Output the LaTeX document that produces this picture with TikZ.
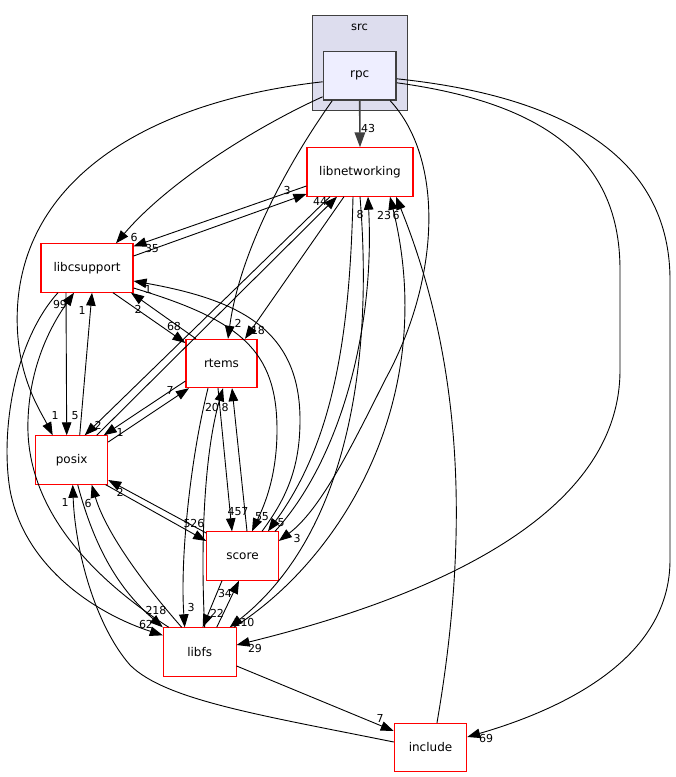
\documentclass[tikz,border=0pt]{standalone}
\usepackage{fontspec}
\setmainfont{DejaVu Sans}
\usetikzlibrary{arrows.meta}
\definecolor{clusterfill}{HTML}{DDDDEE}
\definecolor{rpcfill}{HTML}{EEEEFF}
\definecolor{edgegray}{HTML}{404040}
\begin{document}
\begin{tikzpicture}[x=1pt,y=-1pt,
  dirbox/.style={draw=red, line width=1.1pt, fill=white, minimum height=48.3pt, inner sep=0pt, font=\fontsize{12}{14}\selectfont},
  lbl/.style={font=\fontsize{11}{13}\selectfont, inner sep=0pt},
  dep/.style={-{Triangle[length=13pt,width=9.5pt]}, line width=0.9pt},
  maindep/.style={-{Triangle[length=15pt,width=10.5pt]}, line width=1.6pt, draw=edgegray, fill=edgegray},
]
\useasboundingbox (0,0) rectangle (676,777);
\fill[white] (0,0) rectangle (676,777);

% cluster and nodes
\node[draw=edgegray, fill=clusterfill, line width=1pt, minimum width=94.6pt, minimum height=95.7pt, inner sep=0pt] (src) at (360,62.9) {};
\node[lbl, font=\fontsize{11.5}{13}\selectfont] (srclabel) at (359.5,27) {src};
\node[draw=edgegray, fill=rpcfill, line width=1.6pt, minimum width=72.7pt, minimum height=48.3pt, inner sep=0pt, font=\fontsize{12}{14}\selectfont] (rpc) at (359.7,75.8) {rpc};

\node[dirbox, minimum width=106pt] (libnetworking) at (360,172) {libnetworking};
\node[dirbox, minimum width=92pt] (libcsupport) at (87,268) {libcsupport};
\node[dirbox, minimum width=71pt] (rtems) at (221.5,363.5) {rtems};
\node[dirbox, minimum width=72pt] (posix) at (71.7,460) {posix};
\node[dirbox, minimum width=71.5pt] (score) at (242.5,556) {score};
\node[dirbox, minimum width=72.7pt] (libfs) at (199.7,652) {libfs};
\node[dirbox, minimum width=72.4pt] (include) at (430.5,747.5) {include};

% rpc edges
\draw[maindep] (rpc.south) -- (libnetworking.north);
\draw[dep] ([yshift=-21pt]rpc.west) .. controls (260,125) and (170,180) .. ([xshift=29pt]libcsupport.north);
\draw[dep] ([yshift=-6pt]rpc.west) .. controls (160,100) and (30,170) .. (18,300) .. controls (12,370) and (40,410) .. ([xshift=-19pt]posix.north);
\draw[dep] ([xshift=-27.5pt]rpc.south) .. controls (290,160) and (240,250) .. ([xshift=6.5pt]rtems.north);
\draw[dep] ([xshift=30.5pt]rpc.south) .. controls (445,160) and (440,280) .. (385,380) .. controls (350,450) and (320,510) .. ([yshift=15pt]score.east);
\draw[dep] ([yshift=-7pt]rpc.east) .. controls (560,105) and (620,170) .. (620,270) -- (620,370) .. controls (620,520) and (420,600) .. ([yshift=7pt]libfs.east);
\draw[dep] ([yshift=-3pt]rpc.east) .. controls (600,100) and (670,180) .. (670,280) -- (670,560) .. controls (670,660) and (560,710) .. ([yshift=10.5pt]include.east);

% libnetworking edges
\draw[dep] ([yshift=-14pt]libnetworking.west) -- ([yshift=-3pt]libcsupport.north east);
\draw[dep] ([yshift=12pt]libcsupport.east) -- ([yshift=-22pt]libnetworking.west);
\draw[dep] ([xshift=-16pt]libnetworking.south) -- ([xshift=23.5pt]rtems.north);
\draw[dep] ([xshift=-30pt]libnetworking.south) -- ([xshift=13pt]posix.north);
\draw[dep] ([xshift=25pt]posix.north) -- ([xshift=-23pt]libnetworking.south);
\draw[dep] ([xshift=-7pt]libnetworking.south) .. controls (350,330) and (335,440) .. ([xshift=25.5pt]score.north);
\draw[dep] (libnetworking.south) .. controls (375,380) and (340,540) .. ([xshift=30pt]libfs.north);
\draw[dep] ([xshift=32.5pt]score.north) .. controls (340,460) and (375,330) .. ([xshift=8pt]libnetworking.south);
\draw[dep] ([xshift=34pt]libfs.north) .. controls (340,560) and (440,400) .. ([xshift=30pt]libnetworking.south);
\draw[dep] ([xshift=6.5pt]include.north) .. controls (465,560) and (470,380) .. ([xshift=36pt]libnetworking.south);

% libcsupport edges
\draw[dep] ([xshift=26pt]libcsupport.south) -- ([yshift=20.5pt]rtems.west);
\draw[dep] ([xshift=-25.5pt]rtems.north) -- ([xshift=44pt]libcsupport.south);
\draw[dep] ([xshift=-21pt]libcsupport.south) -- ([xshift=-5pt]posix.north);
\draw[dep] ([xshift=8pt]posix.north) -- ([xshift=5pt]libcsupport.south);
\draw[dep] ([yshift=-20pt]libcsupport.east) .. controls (240,320) and (277,350) .. (277,430) .. controls (277,480) and (262,510) .. ([xshift=9.5pt]score.north);
\draw[dep] ([xshift=19.5pt]score.north) .. controls (285,500) and (300,470) .. (300,420) .. controls (300,330) and (240,300) .. ([yshift=-13pt]libcsupport.east);
\draw[dep] ([xshift=-29pt]libcsupport.south) .. controls (15,340) and (0,430) .. (10,490) .. controls (25,570) and (100,615) .. ([yshift=-8pt]libfs.north west);
\draw[dep] ([xshift=6pt]libfs.north west) .. controls (80,570) and (25,500) .. (28,420) .. controls (30,360) and (55,320) .. ([xshift=-13pt]libcsupport.south);

% rtems edges
\draw[dep] ([yshift=-17.5pt]rtems.west) -- ([xshift=32pt]posix.north);
\draw[dep] ([yshift=18pt]posix.east) -- ([xshift=-32.5pt]rtems.south);
\draw[dep] ([xshift=-3.5pt]rtems.south) -- ([xshift=-10.5pt]score.north);
\draw[dep] ([xshift=4.5pt]score.north) -- ([xshift=10.5pt]rtems.south);
\draw[dep] ([xshift=-13.5pt]rtems.south) .. controls (190,460) and (180,560) .. ([xshift=-15pt]libfs.north);
\draw[dep] ([xshift=5pt]libfs.north) .. controls (200,540) and (205,450) .. ([xshift=1.5pt]rtems.south);

% posix edges
\draw[dep] ([xshift=34pt]posix.south) -- ([yshift=15pt]score.west);
\draw[dep] ([yshift=23pt]score.west) -- ([yshift=-20pt]posix.east);
\draw[dep] ([xshift=6pt]posix.south) .. controls (95,550) and (120,590) .. (libfs.north west);
\draw[dep] ([xshift=-18pt]libfs.north) .. controls (140,580) and (105,530) .. ([xshift=20pt]posix.south);
\draw[dep] ([yshift=5.5pt]include.west) .. controls (260,715) and (165,700) .. (130,665) .. controls (95,625) and (75,550) .. ([xshift=1pt]posix.south);

% score / libfs / include
\draw[dep] ([xshift=-20.5pt]score.south) -- ([xshift=3pt]libfs.north);
\draw[dep] ([xshift=17pt]libfs.north) -- ([xshift=-3.5pt]score.south);
\draw[dep] ([yshift=-14pt]libfs.east) -- ([yshift=16.5pt]include.west);

% edge labels
\node[lbl] (t43) at (368,128) {43};
\node[lbl] (t6a) at (134,237) {6};
\node[lbl] (t1a) at (55,415) {1};
\node[lbl] (t2a) at (238,323) {2};
\node[lbl] (t3a) at (297,538) {3};
\node[lbl] (t29) at (255,648) {29};
\node[lbl] (t69) at (486,738) {69};
\node[lbl] (t35) at (152,248) {35};
\node[lbl] (t3b) at (287,190) {3};
\node[lbl] (t18) at (258,330) {18};
\node[lbl] (t2b) at (98,425) {2};
\node[lbl] (t44) at (320,201) {44};
\node[lbl] (t5a) at (281,523) {5};
\node[lbl] (t110) at (244,622) {110};
\node[lbl] (t8a) at (360,214) {8};
\node[lbl] (t23) at (384,215) {23};
\node[lbl] (t6b) at (396,215) {6};
\node[lbl] (t68) at (174,326) {68};
\node[lbl] (t2c) at (138,309) {2};
\node[lbl] (t5b) at (75,416) {5};
\node[lbl] (t1b) at (82,310) {1};
\node[lbl] (t55) at (262,517) {55};
\node[lbl] (t1c) at (148,289) {1};
\node[lbl] (t62) at (146,624) {62};
\node[lbl] (t99) at (60,304) {99};
\node[lbl] (t7a) at (170,390) {7};
\node[lbl] (t1d) at (120,432) {1};
\node[lbl] (t457) at (238,512) {457};
\node[lbl] (t526) at (194,523) {526};
\node[lbl] (t8b) at (225,407) {8};
\node[lbl] (t20) at (212,407) {20};
\node[lbl] (t2d) at (120,492) {2};
\node[lbl] (t218) at (156,610) {218};
\node[lbl] (t6c) at (88,503) {6};
\node[lbl] (t1e) at (65,502) {1};
\node[lbl] (t3c) at (191,607) {3};
\node[lbl] (t22) at (217,613) {22};
\node[lbl] (t34) at (225,593) {34};
\node[lbl] (t7b) at (380,718) {7};
\end{tikzpicture}
\end{document}
